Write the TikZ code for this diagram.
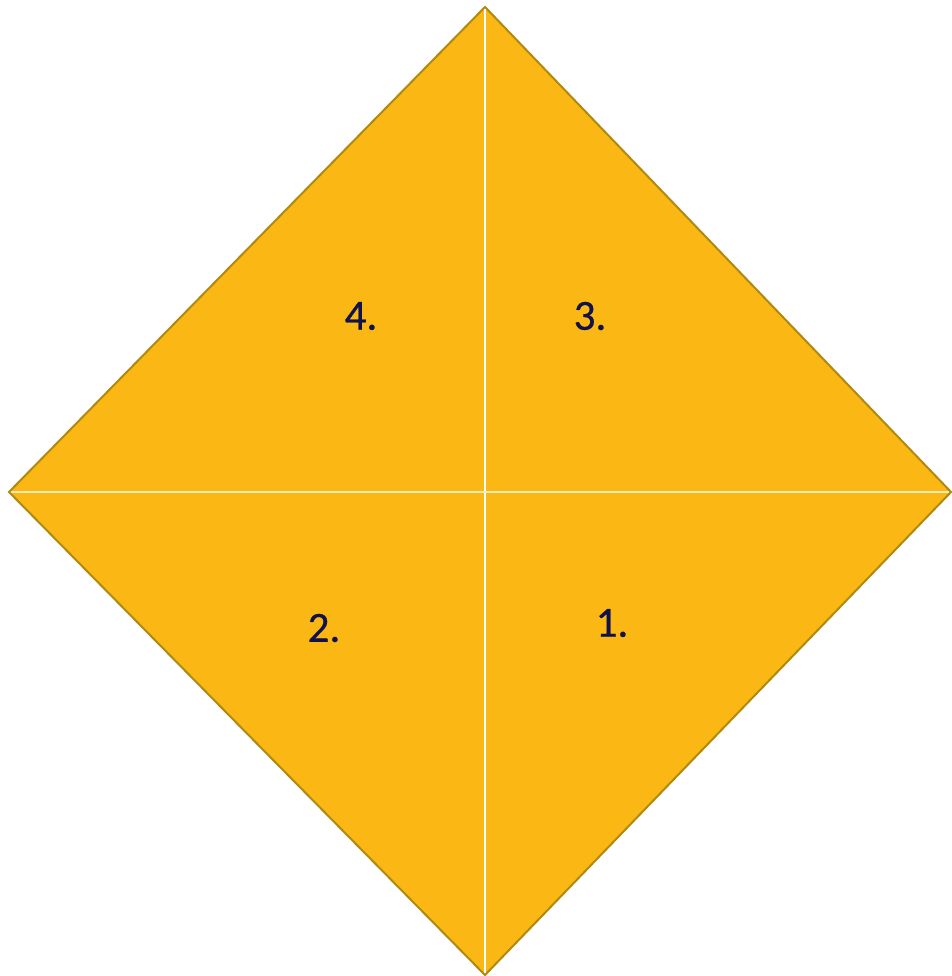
\documentclass[tikz,border=0pt]{standalone}
\usepackage{fontspec}
\setmainfont{Carlito}
\definecolor{kitefill}{HTML}{FBB714}
\definecolor{kiteedge}{HTML}{B08A10}
\definecolor{numcol}{HTML}{12124A}
\begin{document}
\begin{tikzpicture}[x=1pt,y=-1pt,
  lbl/.style={text=numcol,font=\fontsize{43}{50}\selectfont,inner sep=0pt},
  divider/.style={draw=white,line width=1.5pt}]
\useasboundingbox (0,0) rectangle (951,976);
\coordinate (T) at (485,7);
\coordinate (L) at (9,492);
\coordinate (R) at (951,492);
\coordinate (B) at (485,975);
\coordinate (C) at (485,492);
\fill[kitefill] (T) -- (R) -- (B) -- (L) -- cycle;
\draw[divider] (T) -- (B);
\draw[divider,draw=white!70!kitefill] (L) -- (R);
\draw[kiteedge,line width=2pt,line join=miter] (T) -- (R) -- (B) -- (L) -- cycle;
\node[lbl] (n4) at (361,316) {\addfontfeature{FakeBold=0.6}4.};
\node[lbl] (n3) at (590,316) {\addfontfeature{FakeBold=0.6}3.};
\node[lbl] (n2) at (324,628) {\addfontfeature{FakeBold=0.6}2.};
\node[lbl] (n1) at (612,623) {\addfontfeature{FakeBold=0.6}1.};
\end{tikzpicture}
\end{document}
